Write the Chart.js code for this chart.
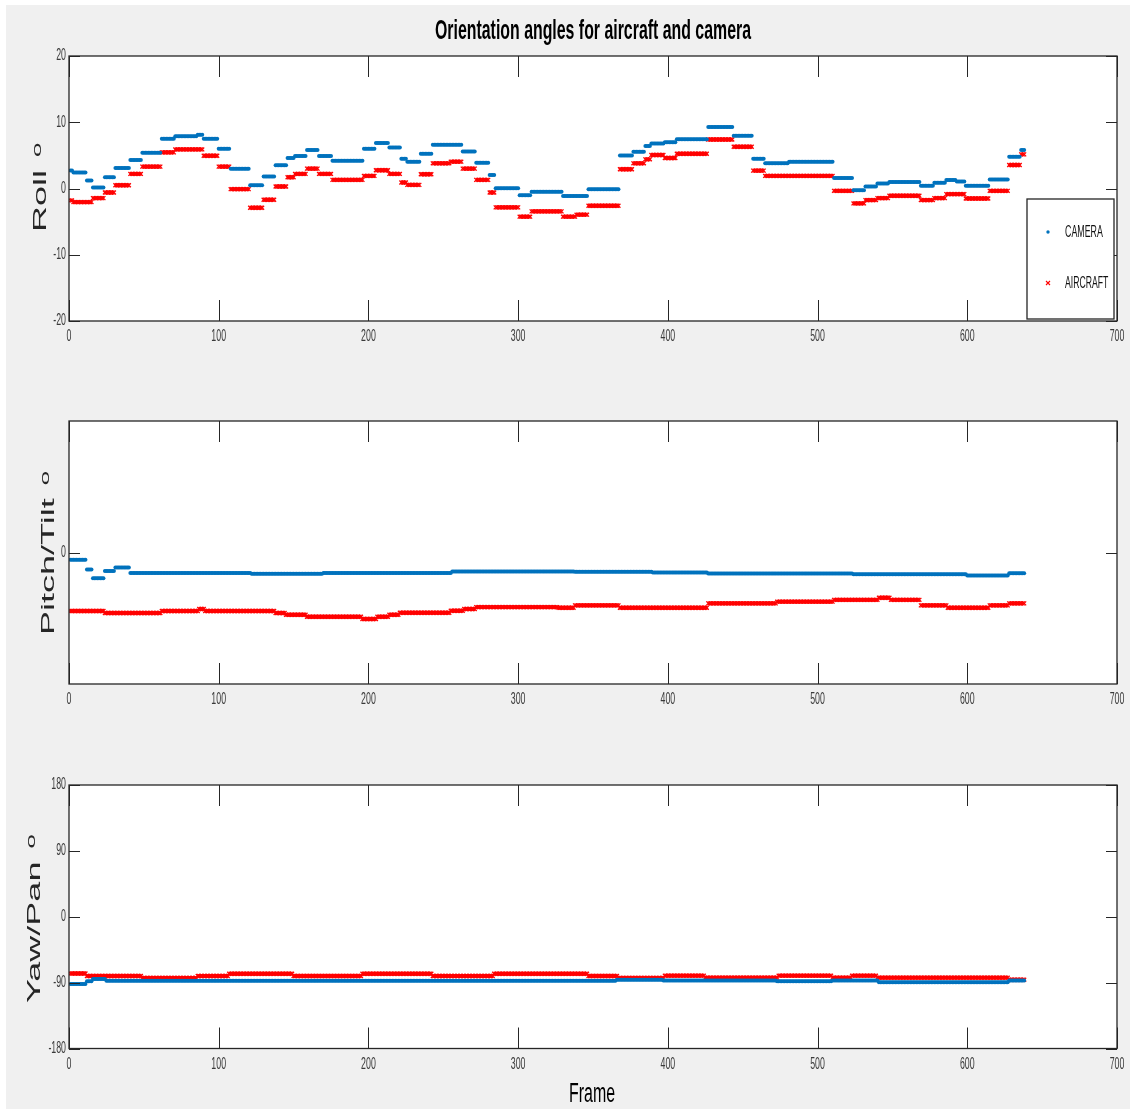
<!DOCTYPE html>
<html>
<head>
<meta charset="utf-8">
<script src="https://cdn.jsdelivr.net/npm/chart.js@4.4.0/dist/chart.umd.min.js"></script>
<style>
  body { margin: 0; background: #fff; overflow: hidden; }
  #fig { position: relative; width: 1130px; height: 1110px; }
  #bg { position: absolute; left: 6px; top: 5px; width: 1124px; height: 1104px; background: #f0f0f0; }
  canvas { position: absolute; left: 0; }
</style>
</head>
<body>
<div id="fig">
  <div id="bg"></div>
  <canvas id="roll" width="1130" height="350" style="top:0"></canvas>
  <canvas id="pitch" width="1130" height="370" style="top:350px"></canvas>
  <canvas id="yaw" width="1130" height="390" style="top:720px"></canvas>
</div>
<script>
// ---- data: each run starts at a frame and holds its value until the next run ----
const lastFrame = 638;
const xTickValues = [0, 100, 200, 300, 400, 500, 600, 700];
const rollTickValues = [-20, -10, 0, 10, 20];
const pitchTickValues = [0];
const yawTickValues = [-180, -90, 0, 90, 180];
const seriesNames = ['CAMERA', 'AIRCRAFT'];

const rollCameraFrames = [1,3,12,16,24,31,41,49,62,71,86,90,100,108,121,130,138,146,151,159,167,176,197,205,214,222,226,235,243,263,272,281,285,301,309,330,347,368,377,385,389,398,406,427,444,457,465,481,511,524,532,540,548,569,578,586,593,599,615,628,636];
const rollCameraValues = [2.7,2.4,1.2,0.15,1.7,3.1,4.3,5.4,7.5,7.9,8.1,7.5,6.0,3.0,0.5,1.8,3.5,4.6,4.9,5.8,4.9,4.2,6.0,6.85,6.2,4.5,4.05,5.25,6.6,5.6,3.9,2.05,0.05,-1.0,-0.5,-1.15,-0.1,5.0,5.55,6.4,6.8,7.0,7.45,9.3,7.95,4.5,3.8,4.05,1.6,-0.25,0.3,0.75,1.0,0.4,0.85,1.3,1.05,0.4,1.35,4.8,5.8];
const rollAircraftFrames = [1,3,16,24,31,41,49,62,71,90,100,108,121,130,138,146,151,159,167,176,197,205,214,222,226,235,243,255,263,272,281,285,301,309,330,339,347,368,377,385,389,398,406,427,444,457,465,511,524,532,540,548,569,578,586,599,615,628,636];
const rollAircraftValues = [-1.8,-2.05,-1.45,-0.6,0.5,2.2,3.3,5.45,5.9,4.95,3.3,-0.1,-2.9,-1.7,0.3,1.7,2.2,3.0,2.2,1.3,1.9,2.75,2.2,0.9,0.55,2.15,3.8,4.05,3.0,1.3,-0.6,-2.85,-4.25,-3.45,-4.25,-3.95,-2.6,2.9,3.8,4.4,5.05,4.6,5.25,7.4,6.3,2.7,1.9,-0.35,-2.25,-1.75,-1.45,-1.1,-1.75,-1.45,-0.85,-1.5,-0.35,3.55,5.15];

const pitchCameraFrames = [1,12,16,24,31,41,122,170,256,338,390,427,524,600,628];
const pitchCameraValues = [-0.55,-1.3,-1.95,-1.4,-1.15,-1.55,-1.62,-1.55,-1.45,-1.47,-1.53,-1.6,-1.66,-1.74,-1.58];
const pitchAircraftFrames = [1,24,62,87,91,138,145,159,196,206,214,221,255,264,272,327,338,368,427,473,511,541,549,569,587,615,628];
const pitchAircraftValues = [-4.45,-4.6,-4.45,-4.3,-4.45,-4.6,-4.73,-4.89,-5.06,-4.89,-4.73,-4.58,-4.43,-4.3,-4.15,-4.2,-4.02,-4.2,-3.87,-3.74,-3.6,-3.44,-3.6,-4.02,-4.2,-4.02,-3.87];

const yawCameraFrames = [1,12,16,25,366,397,473,510,541,628];
const yawCameraValues = [-92,-88,-85,-87.5,-86,-87,-88,-87,-89.5,-87];
const yawAircraftFrames = [1,12,49,86,107,150,196,243,284,347,367,398,425,474,510,523,540,628];
const yawAircraftValues = [-77.5,-81,-83.7,-81,-77.8,-81,-77.8,-81,-77.8,-81,-83.7,-80.5,-83.2,-80.5,-83.2,-80.5,-83.2,-86];

// one marker per frame, as in the original plot
function runsToPoints(frames, values) {
  const pts = [];
  frames.forEach((start, i) => {
    const end = i + 1 < frames.length ? frames[i + 1] - 1 : lastFrame;
    for (let f = start; f <= end; f++) pts.push({ x: f, y: values[i] });
  });
  return pts;
}

const BLUE = '#0072BD', RED = '#ff0000', INK = '#262626';
const SANS = "'Liberation Sans', Arial, sans-serif";

// MATLAB export is squeezed horizontally, so text is drawn with an x scale
function squeezed(ctx, text, x, y, font, sx, align, baseline) {
  ctx.save();
  ctx.translate(x, y);
  ctx.scale(sx, 1);
  ctx.font = font;
  ctx.textAlign = align;
  ctx.textBaseline = baseline;
  ctx.fillText(text, 0, 0);
  ctx.restore();
}

function fitted(ctx, text, x, y, font, width) {
  ctx.save();
  ctx.font = font;
  const sx = width / ctx.measureText(text).width;
  ctx.restore();
  squeezed(ctx, text, x, y, font, sx, 'center', 'alphabetic');
}

function rotatedLabel(ctx, text, baseX, startY) {
  ctx.save();
  ctx.translate(baseX, startY);
  ctx.rotate(-Math.PI / 2);
  ctx.scale(1, 0.5);
  ctx.fillStyle = INK;
  ctx.font = '36px ' + SANS;
  ctx.textAlign = 'left';
  ctx.textBaseline = 'alphabetic';
  ctx.fillText(text, 0, 0);
  const w = ctx.measureText(text).width;
  ctx.font = '26px ' + SANS;
  ctx.fillText('o', w + 13, -10);
  ctx.restore();
}

function axesPlugin(cfg) {
  return {
    id: 'matlabAxes',
    beforeDraw(chart) {
      const { ctx, chartArea: a } = chart;
      ctx.save();
      ctx.fillStyle = '#fff';
      ctx.fillRect(a.left, a.top, a.right - a.left, a.bottom - a.top);
      ctx.restore();
    },
    afterDraw(chart) {
      const { ctx, chartArea: a } = chart;
      const x = chart.scales.x, y = chart.scales.y;
      ctx.save();
      ctx.strokeStyle = INK;
      ctx.lineWidth = 1;
      ctx.beginPath();
      xTickValues.forEach(v => {
        const px = Math.round(x.getPixelForValue(v)) + 0.5;
        ctx.moveTo(px, a.top); ctx.lineTo(px, a.top + 21);
        ctx.moveTo(px, a.bottom); ctx.lineTo(px, a.bottom - 21);
      });
      cfg.yTicks.forEach(v => {
        const py = Math.round(y.getPixelForValue(v)) + 0.5;
        ctx.moveTo(a.left, py); ctx.lineTo(a.left + 11, py);
        ctx.moveTo(a.right, py); ctx.lineTo(a.right - 11, py);
      });
      ctx.stroke();
      ctx.lineWidth = 1.3;
      ctx.strokeRect(a.left, a.top, a.right - a.left, a.bottom - a.top);

      ctx.fillStyle = '#3a3a3a';
      const tf = '16px ' + SANS;
      xTickValues.forEach(v => squeezed(ctx, String(v), x.getPixelForValue(v), a.bottom + 16, tf, 0.55, 'center', 'middle'));
      cfg.yTicks.forEach(v => squeezed(ctx, String(v), a.left - 3, y.getPixelForValue(v), tf, 0.55, 'right', 'middle'));

      rotatedLabel(ctx, cfg.yLabel, cfg.labelX, cfg.labelY);

      ctx.fillStyle = '#000';
      if (cfg.title) fitted(ctx, cfg.title, 593, 39, 'bold 27px ' + SANS, 316);
      if (cfg.xLabel) fitted(ctx, cfg.xLabel, 592, a.bottom + 53, '27px ' + SANS, 46);

      if (cfg.legend) {
        const bx = 1027, by = 199, bw = 87, bh = 120;
        ctx.fillStyle = '#fff';
        ctx.fillRect(bx, by, bw, bh);
        ctx.strokeStyle = INK;
        ctx.lineWidth = 1.3;
        ctx.strokeRect(bx, by, bw, bh);
        // camera dot
        ctx.fillStyle = BLUE;
        ctx.beginPath(); ctx.arc(1048, 232, 1.7, 0, Math.PI * 2); ctx.fill();
        // aircraft cross
        ctx.strokeStyle = RED; ctx.lineWidth = 1.1;
        ctx.beginPath();
        ctx.moveTo(1046, 281); ctx.lineTo(1050, 285);
        ctx.moveTo(1050, 281); ctx.lineTo(1046, 285);
        ctx.stroke();
        ctx.fillStyle = '#111';
        squeezed(ctx, seriesNames[0], 1065, 232, '17px ' + SANS, 0.52, 'left', 'middle');
        squeezed(ctx, seriesNames[1], 1065, 283, '17px ' + SANS, 0.51, 'left', 'middle');
      }
      ctx.restore();
    }
  };
}

function makeChart(id, camera, aircraft, yMin, yMax, padding, cfg) {
  return new Chart(document.getElementById(id), {
    type: 'scatter',
    data: {
      datasets: [
        { label: seriesNames[0], data: camera, pointStyle: 'circle', pointRadius: 2,
          pointBackgroundColor: BLUE, pointBorderWidth: 0 },
        { label: seriesNames[1], data: aircraft, pointStyle: 'crossRot', pointRadius: 2.8,
          pointBorderColor: RED, pointBackgroundColor: RED, pointBorderWidth: 1.3 }
      ]
    },
    options: {
      responsive: false,
      animation: false,
      events: [],
      layout: { padding },
      plugins: { legend: { display: false }, tooltip: { enabled: false } },
      scales: {
        x: { type: 'linear', min: 0, max: 700, display: false },
        y: { type: 'linear', min: yMin, max: yMax, display: false }
      }
    },
    plugins: [axesPlugin(cfg)]
  });
}

makeChart('roll',
  runsToPoints(rollCameraFrames, rollCameraValues),
  runsToPoints(rollAircraftFrames, rollAircraftValues),
  -20, 20, { left: 69, right: 13, top: 56, bottom: 29 },
  { yTicks: rollTickValues, yLabel: 'Roll', labelX: 45.5, labelY: 232,
    title: 'Orientation angles for aircraft and camera', legend: true });

makeChart('pitch',
  runsToPoints(pitchCameraFrames, pitchCameraValues),
  runsToPoints(pitchAircraftFrames, pitchAircraftValues),
  -10, 10, { left: 69, right: 13, top: 71, bottom: 36 },
  { yTicks: pitchTickValues, yLabel: 'Pitch/Tilt', labelX: 53.5, labelY: 635 - 350 });

makeChart('yaw',
  runsToPoints(yawCameraFrames, yawCameraValues),
  runsToPoints(yawAircraftFrames, yawAircraftValues),
  -180, 180, { left: 69, right: 13, top: 65, bottom: 61.5 },
  { yTicks: yawTickValues, yLabel: 'Yaw/Pan', labelX: 40, labelY: 1003 - 720, xLabel: 'Frame' });
</script>
</body>
</html>
